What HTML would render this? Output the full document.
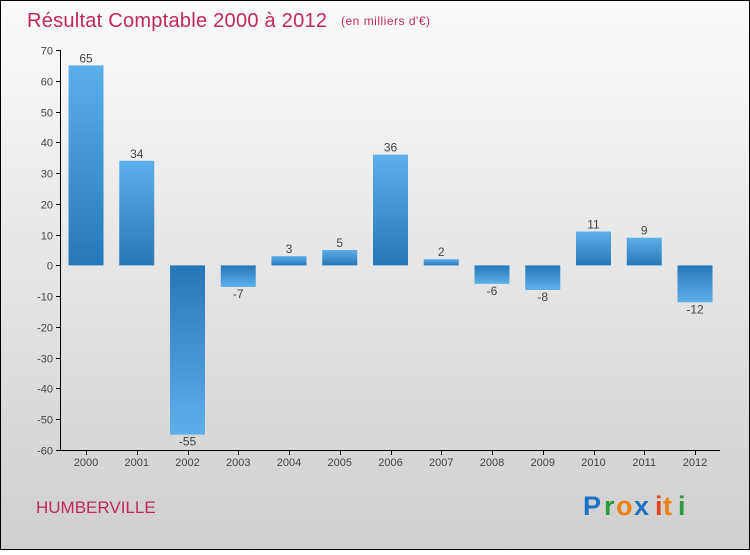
<!DOCTYPE html>
<html><head><meta charset="utf-8"><style>
body{margin:0;width:750px;height:550px;overflow:hidden;font-family:"Liberation Sans",sans-serif}
</style></head><body>
<svg width="750" height="550" xmlns="http://www.w3.org/2000/svg">
<defs>
<linearGradient id="bg" x1="0" y1="0" x2="0" y2="1"><stop offset="0" stop-color="#fbfbfb"/><stop offset="1" stop-color="#cfcfcf"/></linearGradient>
<linearGradient id="gp" x1="0" y1="0" x2="0" y2="1"><stop offset="0" stop-color="#5cb0ea"/><stop offset="1" stop-color="#2677b8"/></linearGradient>
<linearGradient id="gn" x1="0" y1="0" x2="0" y2="1"><stop offset="0" stop-color="#2677b8"/><stop offset="1" stop-color="#5cb0ea"/></linearGradient>
</defs>
<rect x="0.5" y="0.5" width="749" height="549" fill="url(#bg)" stroke="#000"/>
<text x="27" y="27" font-size="20" textLength="300" fill="#c0285a">Résultat Comptable 2000 à 2012</text>
<text x="341" y="25" font-size="12" textLength="89" fill="#c0285a">(en milliers d'€)</text>
<text x="36" y="513" font-size="17" fill="#c0285a">HUMBERVILLE</text>
<g font-size="27" font-weight="bold" font-family="Liberation Sans,sans-serif">
<text x="583" y="515" fill="#1a73c8">P</text><text x="604" y="515" fill="#2a9a3a">r</text><text x="616" y="515" fill="#f07d10">o</text><text x="634" y="515" fill="#1a73c8">x</text><text x="655" y="515" fill="#e8401c">i</text><text x="663" y="515" fill="#f07d10">t</text><text x="678" y="515" fill="#2a9a3a">i</text>
</g>
<g id="plot"></g>
</svg>
<script>
const years=["2000","2001","2002","2003","2004","2005","2006","2007","2008","2009","2010","2011","2012"];
const values=[65,34,-55,-7,3,5,36,2,-6,-8,11,9,-12];
const yTicks=[70,60,50,40,30,20,10,0,-10,-20,-30,-40,-50,-60];
const NS="http://www.w3.org/2000/svg";
const g=document.getElementById('plot');
const y=v=>50+(70-v)*400/130;
const x=i=>86+i*50.75;
function el(t,a,txt){const e=document.createElementNS(NS,t);for(const k in a)e.setAttribute(k,a[k]);if(txt!==undefined)e.textContent=txt;g.appendChild(e);return e;}
let a=el('line',{x1:60.5,y1:50,x2:60.5,y2:450,stroke:'#000'});


a=el('line',{x1:60,y1:450.5,x2:720,y2:450.5,stroke:'#000'});


yTicks.forEach(t=>{
 const yy=Math.round(y(t))+0.5;
 el('line',{x1:56,y1:yy,x2:61,y2:yy,stroke:'#000'});
 const l=el('text',{x:53,y:yy+4,'font-size':11,fill:'#444','text-anchor':'end'},t);
 
 
});
years.forEach((yr,i)=>{
 const v=values[i],cx=x(i),w=35;
 const top=Math.min(y(v),y(0)),h=Math.abs(y(v)-y(0));
 const b=el('rect',{x:cx-w/2,y:top,width:w,height:h,fill:v>=0?'url(#gp)':'url(#gn)'});
 
 
 el('line',{x1:Math.round(cx)+0.5,y1:450,x2:Math.round(cx)+0.5,y2:455,stroke:'#000'});
 const xl=el('text',{x:cx,y:466,'font-size':11,fill:'#444','text-anchor':'middle'},yr);
 
 
 const vl=el('text',{x:cx,y:v>=0?y(v)-3:y(v)+11,'font-size':12,fill:'#444','text-anchor':'middle'},v);
 
 
});
</script>
</body></html>
